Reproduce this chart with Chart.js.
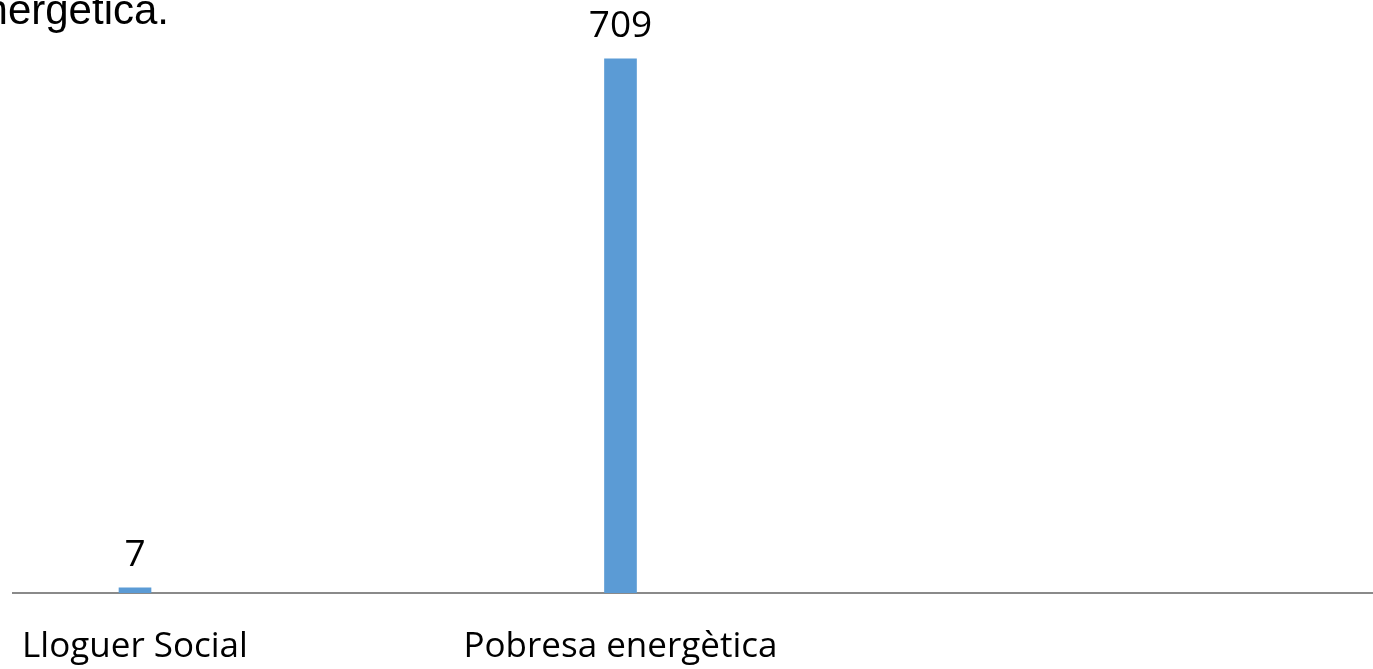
<!DOCTYPE html>
<html>
<head>
<meta charset="utf-8">
<script src="https://cdn.jsdelivr.net/npm/chart.js@4/dist/chart.umd.min.js"></script>
<style>
  html, body { margin: 0; padding: 0; background: #fff; overflow: hidden; }
  #wrap { width: 1373px; height: 669px; position: relative; }
</style>
</head>
<body>
<div id="wrap"><canvas id="chart"></canvas></div>
<script>
// chart data
const categories = ['Lloguer Social', 'Pobresa energètica'];
const values = [7, 709];
const titleText = 'energètica.';

// value labels above each bar
const valueLabels = {
  id: 'valueLabels',
  afterDatasetsDraw(chart) {
    const ctx = chart.ctx;
    const meta = chart.getDatasetMeta(0);
    ctx.save();
    ctx.font = '37px "Open Sans"';
    ctx.fillStyle = '#000';
    ctx.textAlign = 'center';
    ctx.textBaseline = 'alphabetic';
    meta.data.forEach((bar, i) => {
      ctx.fillText(String(values[i]), bar.x, bar.y - 22);
    });
    ctx.restore();
  }
};

// title, cut off at the top left like the original
const cutTitle = {
  id: 'cutTitle',
  afterDraw(chart) {
    const ctx = chart.ctx;
    ctx.save();
    ctx.font = '42px "Liberation Sans"';
    ctx.fillStyle = '#000';
    ctx.textAlign = 'right';
    ctx.textBaseline = 'alphabetic';
    ctx.fillText(titleText, 169, 24);
    ctx.restore();
  }
};

new Chart(document.getElementById('chart'), {
  type: 'bar',
  data: {
    datasets: [{
      data: values.map((v, i) => ({ x: i, y: v })),
      backgroundColor: '#5B9BD5',
      barThickness: 32
    }]
  },
  options: {
    responsive: true,
    maintainAspectRatio: false,
    animation: false,
    layout: { padding: { top: 28, left: 13, right: 0, bottom: 4 } },
    plugins: {
      legend: { display: false },
      tooltip: { enabled: false }
    },
    scales: {
      x: {
        type: 'linear',
        offset: false,
        min: -0.2513,
        max: 2.55,
        grid: { display: false, drawTicks: false },
        border: { display: true, color: '#8a8a8a', width: 2 },
        afterFit: (scale) => {
          scale.height = 72;
          scale.paddingLeft = 0;
          scale.paddingRight = 0;
        },
        ticks: {
          stepSize: 1,
          includeBounds: false,
          autoSkip: false,
          maxRotation: 0,
          padding: 37,
          color: '#000',
          font: { family: '"Open Sans"', size: 35, lineHeight: 1.0 },
          callback: (v) => categories[v] ?? ''
        }
      },
      y: {
        display: false,
        min: 0,
        max: 750
      }
    }
  },
  plugins: [valueLabels, cutTitle]
});
</script>
</body>
</html>
